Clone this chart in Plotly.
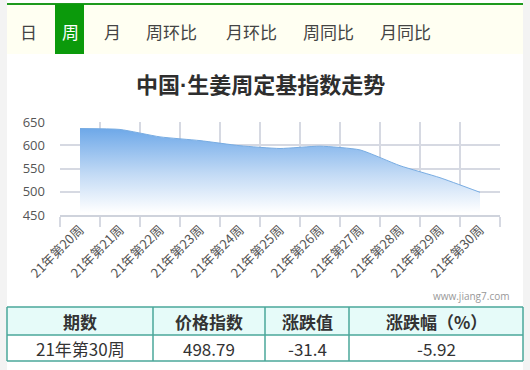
import plotly.graph_objects as go

# ---------------- data ----------------
categories = ["21年第20周", "21年第21周", "21年第22周", "21年第23周", "21年第24周",
              "21年第25周", "21年第26周", "21年第27周", "21年第28周", "21年第29周",
              "21年第30周"]
index_values = [636, 634, 618, 610, 599, 593, 598, 590, 556, 530.19, 498.79]
y_ticks = [450, 500, 550, 600, 650]

tabs = ["日", "周", "月", "周环比", "月环比", "周同比", "月同比"]
selected_tab = "周"
title_parts = ["中国", "·", "生姜周定基指数走势"]
watermark = "www.jiang7.com"

table_header = ["期数", "价格指数", "涨跌值", "涨跌幅（%）"]
table_row = ["21年第30周", "498.79", "-31.4", "-5.92"]

# ---------------- geometry helpers ----------------
W, H = 530, 370
PL, PR, PT, PB = 60, 500, 122, 215


def X(px):
    return (px - PL) / (PR - PL)


def Y(py):
    return (PB - py) / (PB - PT)


CJK = "Noto Sans CJK SC, Microsoft YaHei, sans-serif"

fig = go.Figure()
fig.add_trace(go.Scatter(
    x=categories, y=index_values, mode="lines",
    line=dict(color="#78ace2", width=1, shape="spline", smoothing=0.5),
    fill="tozeroy",
    fillgradient=dict(type="vertical", start=455, stop=640,
                      colorscale=[[0, "rgba(255,255,255,1)"], [0.45, "#c2daf5"], [1, "#6aa6e8"]]),
    hoverinfo="x+y", showlegend=False,
))

shapes = []
annotations = []

# page edges
shapes.append(dict(type="rect", xref="paper", yref="paper", x0=X(0), x1=X(7), y0=Y(H), y1=Y(0),
                   fillcolor="#f3f3f3", line_width=0, layer="below"))
shapes.append(dict(type="rect", xref="paper", yref="paper", x0=X(523), x1=X(W), y0=Y(H), y1=Y(0),
                   fillcolor="#f3f3f3", line_width=0, layer="below"))
# tab bar
shapes.append(dict(type="rect", xref="paper", yref="paper", x0=X(7), x1=X(523), y0=Y(54), y1=Y(4),
                   fillcolor="#fffff2", line_width=0, layer="below"))
shapes.append(dict(type="rect", xref="paper", yref="paper", x0=X(7), x1=X(523), y0=Y(5), y1=Y(3),
                   fillcolor="#1e9a1e", line_width=0, layer="below"))

tab_centers = [28, 70, 112, 171, 251, 328, 405]
for name, cx in zip(tabs, tab_centers):
    sel = name == selected_tab
    if sel:
        shapes.append(dict(type="rect", xref="paper", yref="paper", x0=X(55), x1=X(84), y0=Y(54), y1=Y(4),
                           fillcolor="#0b9a0b", line_width=0, layer="below"))
    annotations.append(dict(xref="paper", yref="paper", x=X(cx), y=Y(31), text=name, showarrow=False,
                            font=dict(family=CJK, size=17, color="#ffffff" if sel else "#444444"),
                            xanchor="center", yanchor="middle"))

# title (narrow middle dot from a Latin font)
title_html = ("<b>" + title_parts[0] + "<span style='font-family:Liberation Sans'>" + title_parts[1]
              + "</span>" + title_parts[2] + "</b>")
annotations.append(dict(xref="paper", yref="paper", x=X(260), y=Y(83), text=title_html,
                        showarrow=False, font=dict(family=CJK, size=22, color="#2e2e2e"),
                        xanchor="center", yanchor="middle"))
# watermark
annotations.append(dict(xref="paper", yref="paper", x=X(511), y=Y(296), text=watermark, showarrow=False,
                        font=dict(family="Open Sans, sans-serif", size=10, color="#999999"),
                        xanchor="right", yanchor="middle"))

# table
col_edges = [7, 153, 265, 349, 523]
row_edges = [307, 335, 361]
shapes.append(dict(type="rect", xref="paper", yref="paper", x0=X(7), x1=X(523), y0=Y(335), y1=Y(307),
                   fillcolor="#e6fbf9", line_width=0, layer="below"))
tc = "#4aa79a"
for ry in row_edges:
    shapes.append(dict(type="line", xref="paper", yref="paper", x0=X(7), x1=X(523), y0=Y(ry), y1=Y(ry),
                       line=dict(color=tc, width=1.5)))
for cxe in col_edges:
    shapes.append(dict(type="line", xref="paper", yref="paper", x0=X(cxe), x1=X(cxe), y0=Y(361), y1=Y(307),
                       line=dict(color=tc, width=1.5)))
for i in range(4):
    cx = (col_edges[i] + col_edges[i + 1]) / 2
    annotations.append(dict(xref="paper", yref="paper", x=X(cx), y=Y(321), text="<b>" + table_header[i] + "</b>",
                            showarrow=False, font=dict(family=CJK, size=17, color="#333333"),
                            xanchor="center", yanchor="middle"))
    annotations.append(dict(xref="paper", yref="paper", x=X(cx), y=Y(348), text=table_row[i],
                            showarrow=False, font=dict(family=CJK, size=17, color="#333333"),
                            xanchor="center", yanchor="middle"))

grid_c = "#d6d9e2"
fig.update_layout(
    width=W, height=H,
    margin=dict(l=PL, r=W - PR, t=PT, b=H - PB),
    paper_bgcolor="#ffffff", plot_bgcolor="rgba(0,0,0,0)",
    shapes=shapes, annotations=annotations,
    xaxis=dict(type="category", tickson="boundaries", showgrid=True, gridcolor=grid_c, gridwidth=1.5,
               ticks="outside", ticklen=10, tickcolor=grid_c, tickwidth=1.5,
               showline=True, linecolor="#cfd3dc", linewidth=2,
               tickangle=-45, tickfont=dict(family=CJK, size=13, color="#555555"),
               range=[-0.5, len(categories) - 0.5], fixedrange=True),
    yaxis=dict(range=[450, 650], tickvals=y_ticks, showgrid=True, gridcolor=grid_c, gridwidth=1.5,
               zeroline=False, showline=False, ticks="", ticklabelstandoff=14,
               tickfont=dict(family="Open Sans, sans-serif", size=13, color="#555555"), fixedrange=True),
)

fig.write_html("out.html", config={"displayModeBar": False},
               post_script="document.body.style.margin='0';document.body.style.overflow='hidden';")
